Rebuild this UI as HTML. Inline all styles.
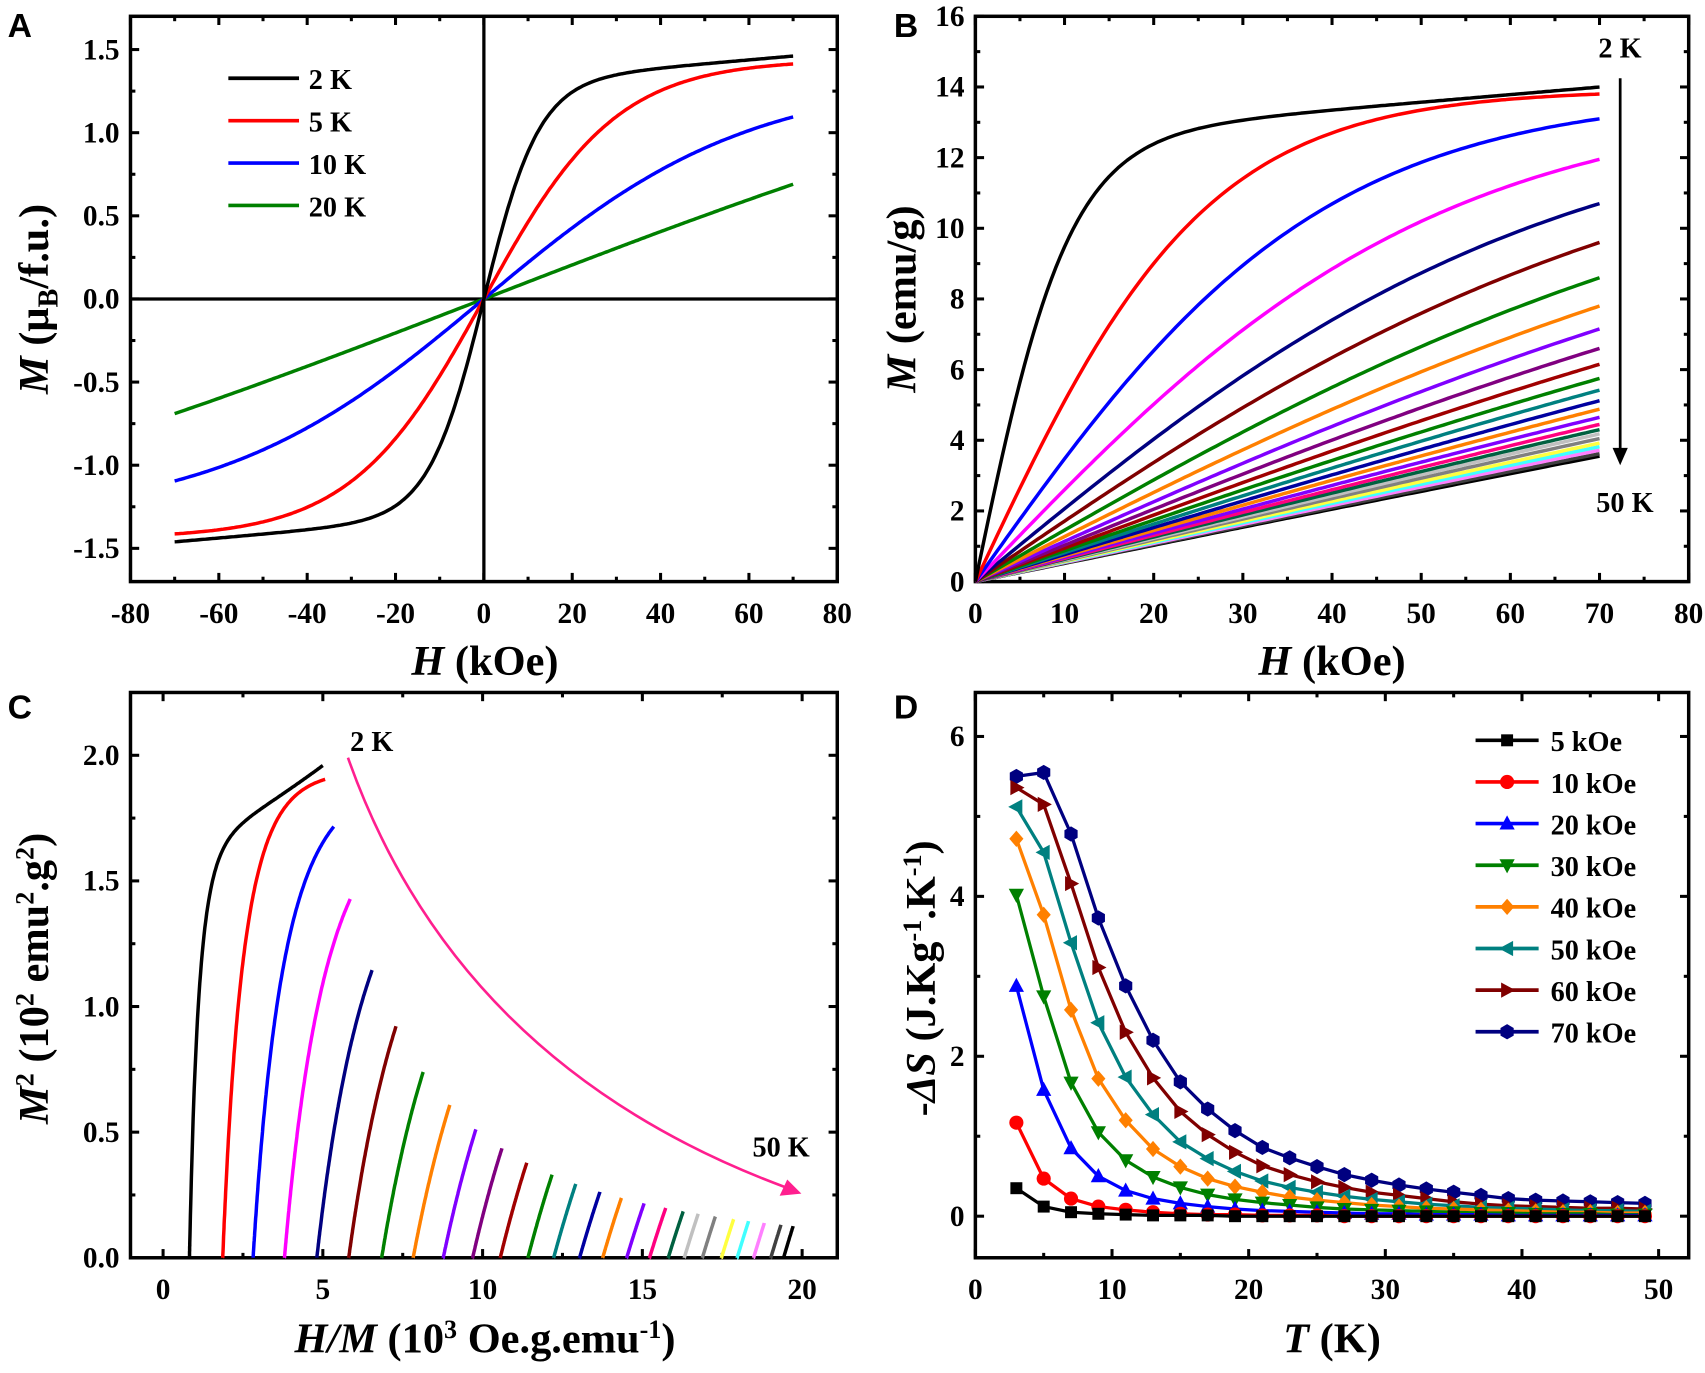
<!DOCTYPE html>
<html><head><meta charset="utf-8"><style>
html,body{margin:0;padding:0;background:#fff;}
svg{display:block;}
text{font-family:"Liberation Serif",serif;font-weight:bold;fill:#000;}
.pl{font-family:"Liberation Sans",sans-serif;font-size:31px;}
.tk{font-size:27px;}
.ax{font-size:39px;}
.lg{font-size:26px;}
</style></head><body>
<svg id="s" width="1705" height="1373" viewBox="0 0 1568 1263" preserveAspectRatio="none" xmlns="http://www.w3.org/2000/svg"></svg>
<script>
const S=document.getElementById('s');let out='';
function add(s){out+=s;}
function line(x1,y1,x2,y2,c,w){add(`<line x1="${x1}" y1="${y1}" x2="${x2}" y2="${y2}" stroke="${c||'#000'}" stroke-width="${w||2.5}"/>`);}
function txt(x,y,t,cls,anc,extra){add(`<text x="${x}" y="${y}" class="${cls}" text-anchor="${anc||'middle'}" ${extra||''}>${t}</text>`);}
function poly(pts,c,w){add(`<polyline fill="none" stroke="${c}" stroke-width="${w||2.6}" stroke-linejoin="round" points="${pts.map(p=>p[0].toFixed(1)+','+p[1].toFixed(1)).join(' ')}"/>`);}
function axes(L,R,T,B,xm,xM,ym,yM,xt,xminor,yt,yminor,xfmt,yfmt){
  const X=v=>L+(v-xm)/(xM-xm)*(R-L), Y=v=>B-(v-ym)/(yM-ym)*(B-T);
  add(`<rect x="${L}" y="${T}" width="${R-L}" height="${B-T}" fill="none" stroke="#000" stroke-width="3.2"/>`);
  for(let v=xt[0];v<=xt[1]+1e-9;v+=xminor){const x=X(v);const maj=Math.abs(Math.round(v/xt[2])*xt[2]-v)<1e-6;const l=maj?8:4.5;
    line(x,B,x,B-l,'#000',2.8);line(x,T,x,T+l,'#000',2.8);
    if(maj)txt(x,B+38,xfmt(v),'tk');}
  for(let v=yt[0];v<=yt[1]+1e-9;v+=yminor){const y=Y(v);const maj=Math.abs(Math.round(v/yt[2])*yt[2]-v)<1e-6;const l=maj?8:4.5;
    line(L,y,L+l,y,'#000',2.8);line(R,y,R-l,y,'#000',2.8);
    if(maj)txt(L-10,y+9,yfmt(v),'tk','end');}
  return [X,Y];
}
const cols=['#000000','#ff0000','#0000ff','#ff00ff','#000080','#800000','#008000','#ff8000','#8000ff','#800080','#a00000','#008000','#008080','#0000a0','#ff8000','#8000ff','#ff0080','#006040','#c0c0c0','#808080','#ffff40','#40ffff','#ff80ff','#404040','#000000'];
const v70=[14.0,13.8,13.1,11.95,10.7,9.6,8.6,7.8,7.15,6.6,6.15,5.75,5.42,5.12,4.88,4.65,4.45,4.3,4.18,4.05,3.92,3.82,3.72,3.62,3.55];
function Mf(i,H){const T=2+2*i;if(i==0)return 12.5*Math.tanh(H/10.5)+0.0214*H;const h=6.5*T;const A=v70[i]/Math.tanh(70/h);return A*Math.tanh(H/h);}

// Panel A
{const [X,Y]=axes(120,770,15,535,-80,80,-1.7,1.7,[-80,80,20],10,[-1.5,1.5,0.5],0.25,v=>Math.round(v),v=>v.toFixed(1));
 line(120,Y(0),770,Y(0),'#000',3);line(X(0),15,X(0),535,'#000',3);
 const fs=[H=>Math.sign(H)*(1.3*Math.tanh(Math.abs(H)/12.5)+0.0023*Math.abs(H)),H=>1.44*Math.tanh(H/30),H=>1.33*Math.tanh(H/60),H=>0.69*Math.tanh(H/200)/Math.tanh(70/200)];
 const cc=['#000','#ff0000','#0000ff','#008000'];
 for(let k=3;k>=0;k--){const p=[];for(let H=-70;H<=70.01;H+=0.5)p.push([X(H),Y(fs[k](H))]);poly(p,cc[k],3.2);}
 ['2 K','5 K','10 K','20 K'].forEach((t,k)=>{const y=72+k*39;line(210,y,275,y,cc[k],3.4);txt(284,y+10,t,'lg','start');});
 txt(7,34,'A','pl','start');
 add(`<text x="446" y="621" class="ax" text-anchor="middle"><tspan font-style="italic">H</tspan> (kOe)</text>`);
 add(`<text transform="translate(44,275) rotate(-90)" class="ax" text-anchor="middle"><tspan font-style="italic">M</tspan> (μ<tspan font-size="26" dy="9">B</tspan><tspan dy="-9">/f.u.)</tspan></text>`);
}
// Panel B
{const [X,Y]=axes(897,1553,15,535,0,80,0,16,[0,80,10],5,[0,16,2],1,v=>Math.round(v),v=>Math.round(v));
 for(let i=24;i>=0;i--){const p=[];for(let H=0;H<=70.01;H+=0.5)p.push([X(H),Y(Mf(i,H))]);poly(p,cols[i],3.2);}
 line(1490,72,1490,415,'#000',2.5);add(`<polygon points="1483,412 1497,412 1490,428" fill="#000"/>`);
 txt(1470,53,'2 K','lg','start');txt(1468,471,'50 K','lg','start');
 txt(822,34,'B','pl','start');
 add(`<text x="1225" y="621" class="ax" text-anchor="middle"><tspan font-style="italic">H</tspan> (kOe)</text>`);
 add(`<text transform="translate(842,275) rotate(-90)" class="ax" text-anchor="middle"><tspan font-style="italic">M</tspan> (emu/g)</text>`);
}
// Panel C
{const [X,Y]=axes(120,770,637,1157,-1.02,21.1,0,2.25,[0,20,5],2.5,[0,2,0.5],0.25,v=>Math.round(v),v=>v.toFixed(1));
 for(let i=24;i>=0;i--){const p=[];for(let H=0.05;H<=70.01;H+=(H<2?0.05:0.5)){const m=Mf(i,H);p.push([X(H/m),Y(m*m/100)]);}poly(p,cols[i],3.2);}
 add(`<path d="M320,697 Q420,980 722,1092" fill="none" stroke="#ff1f8f" stroke-width="2.4"/>`);
 add(`<polygon points="737,1098 717,1100 724,1085" fill="#ff1f8f"/>`);
 txt(322,691,'2 K','lg','start');txt(692,1064,'50 K','lg','start');
 txt(7,661,'C','pl','start');
 add(`<text x="446" y="1244" class="ax" text-anchor="middle"><tspan font-style="italic">H/M</tspan> (10<tspan font-size="24" dy="-13">3</tspan><tspan dy="13"> Oe.g.emu</tspan><tspan font-size="24" dy="-13">-1</tspan><tspan dy="13">)</tspan></text>`);
 add(`<text transform="translate(44,900) rotate(-90)" class="ax" text-anchor="middle"><tspan font-style="italic">M</tspan><tspan font-size="24" dy="-13">2</tspan><tspan dy="13"> (10</tspan><tspan font-size="24" dy="-13">2</tspan><tspan dy="13"> emu</tspan><tspan font-size="24" dy="-13">2</tspan><tspan dy="13">.g</tspan><tspan font-size="24" dy="-13">2</tspan><tspan dy="13">)</tspan></text>`);
}
// Panel D
{const [X,Y]=axes(897,1553,637,1157,0,52.2,-0.52,6.55,[0,50,10],5,[0,6,2],1,v=>Math.round(v),v=>Math.round(v));
 const D=[
 [0.35,0.12,0.05,0.03,0.02,0.01,0.01,0.01,0,0,0,0,0,0,0,0,0,0,0,0,0,0,0,0],
 [1.17,0.47,0.22,0.12,0.08,0.05,0.03,0.02,0.02,0.01,0.01,0.01,0,0,0,0,0,0,0,0,0,0,0,0],
 [2.88,1.58,0.85,0.5,0.32,0.22,0.16,0.12,0.09,0.07,0.06,0.05,0.04,0.03,0.03,0.02,0.02,0.02,0.01,0.01,0.01,0.01,0.01,0.01],
 [4.02,2.75,1.67,1.05,0.7,0.49,0.36,0.27,0.21,0.17,0.14,0.11,0.09,0.08,0.07,0.06,0.05,0.04,0.04,0.03,0.03,0.03,0.02,0.02],
 [4.72,3.77,2.58,1.72,1.2,0.84,0.62,0.47,0.37,0.3,0.24,0.2,0.17,0.14,0.12,0.1,0.09,0.08,0.07,0.06,0.05,0.05,0.04,0.04],
 [5.12,4.55,3.42,2.42,1.74,1.27,0.93,0.72,0.56,0.44,0.36,0.3,0.25,0.21,0.18,0.15,0.13,0.11,0.1,0.09,0.08,0.07,0.07,0.06],
 [5.36,5.15,4.16,3.11,2.3,1.73,1.31,1.02,0.8,0.63,0.52,0.43,0.36,0.3,0.26,0.22,0.18,0.15,0.13,0.12,0.11,0.1,0.1,0.09],
 [5.5,5.55,4.78,3.73,2.88,2.2,1.68,1.34,1.07,0.86,0.73,0.62,0.52,0.45,0.39,0.34,0.3,0.26,0.22,0.2,0.19,0.18,0.17,0.16]];
 const dc=['#000000','#ff0000','#0000ff','#008000','#ff8000','#008080','#800000','#000080'];
 function mk(k,x,y,c){const r=6.5;
  if(k==0)return `<rect x="${x-5.5}" y="${y-5.5}" width="11" height="11" fill="${c}"/>`;
  if(k==1)return `<circle cx="${x}" cy="${y}" r="${r}" fill="${c}"/>`;
  if(k==2)return `<polygon points="${x},${y-7.5} ${x-7},${y+5.5} ${x+7},${y+5.5}" fill="${c}"/>`;
  if(k==3)return `<polygon points="${x},${y+7.5} ${x-7},${y-5.5} ${x+7},${y-5.5}" fill="${c}"/>`;
  if(k==4)return `<polygon points="${x},${y-7.5} ${x+6.5},${y} ${x},${y+7.5} ${x-6.5},${y}" fill="${c}"/>`;
  if(k==5)return `<polygon points="${x-7.5},${y} ${x+5.5},${y-7} ${x+5.5},${y+7}" fill="${c}"/>`;
  if(k==6)return `<polygon points="${x+7.5},${y} ${x-5.5},${y-7} ${x-5.5},${y+7}" fill="${c}"/>`;
  let p='';for(let a=0;a<6;a++){const t=Math.PI/6+a*Math.PI/3;p+=(x+7*Math.cos(t))+','+(y+7*Math.sin(t))+' ';}return `<polygon points="${p}" fill="${c}"/>`;}
 for(let k=7;k>=0;k--){const p=D[k].map((v,j)=>[X(3+2*j),Y(v)]);poly(p,dc[k],3);p.forEach(q=>add(mk(k,q[0],q[1],dc[k])));}
 ['5 kOe','10 kOe','20 kOe','30 kOe','40 kOe','50 kOe','60 kOe','70 kOe'].forEach((t,k)=>{const y=681+k*38.3;line(1357,y,1415,y,dc[k],3.4);add(mk(k,1386,y,dc[k]));txt(1426,y+10,t,'lg','start');});
 txt(822,661,'D','pl','start');
 add(`<text x="1225" y="1244" class="ax" text-anchor="middle"><tspan font-style="italic">T</tspan> (K)</text>`);
 add(`<text transform="translate(860,900) rotate(-90)" class="ax" text-anchor="middle">-<tspan font-style="italic">ΔS</tspan> (J.Kg<tspan font-size="24" dy="-13">-1</tspan><tspan dy="13">.K</tspan><tspan font-size="24" dy="-13">-1</tspan><tspan dy="13">)</tspan></text>`);
}
S.innerHTML=out;
</script>
</body></html>
